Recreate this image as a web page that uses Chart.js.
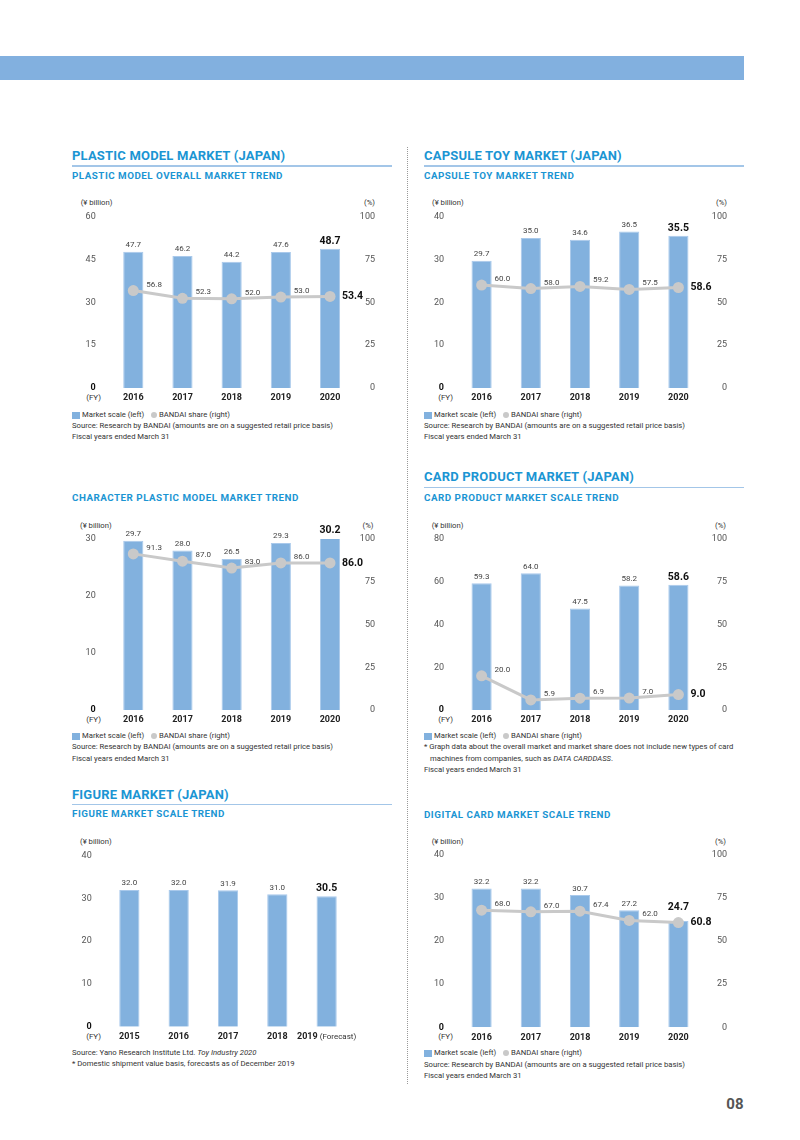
<!DOCTYPE html>
<html>
<head>
<meta charset="utf-8">
<script src="https://cdn.jsdelivr.net/npm/chart.js@4.4.1/dist/chart.umd.min.js"></script>
<style>
body { margin: 0; background: #fff; font-family: Roboto, sans-serif; }
#page { position: relative; width: 800px; height: 1140px; overflow: hidden; }
.t { position: absolute; white-space: nowrap; line-height: 1; transform: translateY(-50%); color: #333; font-size: 7.7px; }
.r { transform: translate(-100%, -50%); }
.h1 { font-size: 13px; font-weight: bold; color: #1b95d3; letter-spacing: 0.2px; }
.h2 { font-size: 9.8px; font-weight: bold; color: #1b95d3; letter-spacing: 0.5px; }
.fy { font-size: 8px; color: #333; }
.pg { font-size: 15px; font-weight: bold; color: #555; }
.blk { position: absolute; }
canvas { position: absolute; }
</style>
</head>
<body>
<div id="page"></div>
<script>
// ---- data ----
const fiscalYears = ["2016", "2017", "2018", "2019", "2020"];
const figureYears = ["2015", "2016", "2017", "2018", "2019"];
const figureYearNotes = ["", "", "", "", " (Forecast)"];

const shareTicks = [0, 25, 50, 75, 100];

const plasticScale = [47.7, 46.2, 44.2, 47.6, 48.7];
const plasticShare = [56.8, 52.3, 52.0, 53.0, 53.4];
const plasticTicks = [0, 15, 30, 45, 60];

const capsuleScale = [29.7, 35.0, 34.6, 36.5, 35.5];
const capsuleShare = [60.0, 58.0, 59.2, 57.5, 58.6];
const capsuleTicks = [0, 10, 20, 30, 40];

const charModelScale = [29.7, 28.0, 26.5, 29.3, 30.2];
const charModelShare = [91.3, 87.0, 83.0, 86.0, 86.0];
const charModelTicks = [0, 10, 20, 30];

const cardScale = [59.3, 64.0, 47.5, 58.2, 58.6];
const cardShare = [20.0, 5.9, 6.9, 7.0, 9.0];
const cardTicks = [0, 20, 40, 60, 80];

const figureScale = [32.0, 32.0, 31.9, 31.0, 30.5];
const figureTicks = [0, 10, 20, 30, 40];

const digitalScale = [32.2, 32.2, 30.7, 27.2, 24.7];
const digitalShare = [68.0, 67.0, 67.4, 62.0, 60.8];
const digitalTicks = [0, 10, 20, 30, 40];

const BAR = "#82b1de";
const LINE = "#c9c9c9";
const page = document.getElementById("page");

// ---- page furniture ----
function txt(x, y, html, cls, right) {
    const d = document.createElement("div");
    d.className = "t " + (cls || "") + (right ? " r" : "");
    d.style.left = x + "px";
    d.style.top = y + "px";
    d.innerHTML = html;
    page.appendChild(d);
}

function block(x, y, w, h, css) {
    const d = document.createElement("div");
    d.className = "blk";
    d.style.cssText += `left:${x}px;top:${y}px;width:${w}px;height:${h}px;` + css;
    page.appendChild(d);
}

function legend(x, y) {
    block(x, y - 3.5, 8, 7, "background:" + BAR);
    txt(x + 10, y, "Market scale (left)");
    block(x + 79, y - 3, 6, 6, "background:" + LINE + ";border-radius:50%");
    txt(x + 87, y, "BANDAI share (right)");
}

block(0, 56, 744, 24, "background:#82b0df");
block(407, 147, 0, 937, "border-left:1px dotted #999");
txt(743.5, 1104, "08", "pg", true);

// plastic model
txt(72, 155, "PLASTIC MODEL MARKET (JAPAN)", "h1");
block(72, 165, 320, 1.5, "background:#a3c6e8");
txt(72, 176, "PLASTIC MODEL OVERALL MARKET TREND", "h2");
txt(80.7, 202.7, "(¥ billion)");
txt(375, 202.7, "(%)", "", true);
txt(101, 398, "(FY)", "fy", true);
legend(72, 415);
txt(72, 426, "Source: Research by BANDAI (amounts are on a suggested retail price basis)");
txt(72, 436.7, "Fiscal years ended March 31");

// capsule toy
txt(424, 155, "CAPSULE TOY MARKET (JAPAN)", "h1");
block(424, 165, 320, 1.5, "background:#a3c6e8");
txt(424, 176, "CAPSULE TOY MARKET TREND", "h2");
txt(432, 202.7, "(¥ billion)");
txt(727, 202.7, "(%)", "", true);
txt(453, 398, "(FY)", "fy", true);
legend(424, 415);
txt(424, 426, "Source: Research by BANDAI (amounts are on a suggested retail price basis)");
txt(424, 436.7, "Fiscal years ended March 31");

// character plastic model
txt(72, 497.7, "CHARACTER PLASTIC MODEL MARKET TREND", "h2");
txt(80, 525.7, "(¥ billion)");
txt(373.5, 525.7, "(%)", "", true);
txt(101, 720, "(FY)", "fy", true);
legend(72, 736);
txt(72, 747, "Source: Research by BANDAI (amounts are on a suggested retail price basis)");
txt(72, 759, "Fiscal years ended March 31");

// card product
txt(424, 476, "CARD PRODUCT MARKET (JAPAN)", "h1");
block(424, 486.5, 320, 1.5, "background:#a3c6e8");
txt(424, 497.7, "CARD PRODUCT MARKET SCALE TREND", "h2");
txt(431.7, 525.7, "(¥ billion)");
txt(726, 525.7, "(%)", "", true);
txt(453, 719.5, "(FY)", "fy", true);
legend(424, 736);
txt(424, 747, "* Graph data about the overall market and market share does not include new types of card");
txt(430, 758.5, "machines from companies, such as <i>DATA CARDDASS</i>.");
txt(424, 770, "Fiscal years ended March 31");

// figure
txt(72, 794, "FIGURE MARKET (JAPAN)", "h1");
block(72, 803.5, 320, 1.5, "background:#a3c6e8");
txt(72, 814, "FIGURE MARKET SCALE TREND", "h2");
txt(80, 842, "(¥ billion)");
txt(101, 1037, "(FY)", "fy", true);
txt(72, 1052.7, "Source: Yano Research Institute Ltd. <i>Toy Industry 2020</i>");
txt(72, 1064, "* Domestic shipment value basis, forecasts as of December 2019");

// digital card
txt(424, 815, "DIGITAL CARD MARKET SCALE TREND", "h2");
txt(431.7, 842, "(¥ billion)");
txt(726, 842, "(%)", "", true);
txt(453, 1037, "(FY)", "fy", true);
legend(424, 1053);
txt(424, 1065, "Source: Research by BANDAI (amounts are on a suggested retail price basis)");
txt(424, 1076, "Fiscal years ended March 31");

// ---- plugins ----
const valueLabels = {
    id: "valueLabels",
    afterDatasetsDraw(chart, args, opts) {
        const ctx = chart.ctx;
        chart.data.datasets.forEach((ds, i) => {
            const meta = chart.getDatasetMeta(i);
            meta.data.forEach((el, j) => {
                const last = j === ds.data.length - 1;
                const text = ds.data[j].toFixed(1);
                ctx.save();
                ctx.font = last ? "bold 10.5px Roboto" : "8px Roboto";
                ctx.fillStyle = last ? "#111" : "#444";
                ctx.textBaseline = "middle";
                if (ds.type === "line") {
                    ctx.textAlign = "left";
                    ctx.fillText(text, el.x + (last ? 12 : 13), last ? el.y : el.y - 6);
                } else {
                    ctx.textAlign = "center";
                    ctx.fillText(text, el.x, el.y - (last ? opts.lastLift : 6.5));
                }
                ctx.restore();
            });
        });
    }
};

const yearLabels = {
    id: "yearLabels",
    afterDraw(chart, args, opts) {
        const ctx = chart.ctx;
        const xs = chart.scales.x;
        const y = chart.chartArea.bottom + 10;
        const notes = opts.notes || [];
        chart.data.labels.forEach((lab, j) => {
            const note = notes[j] || "";
            ctx.save();
            ctx.textBaseline = "middle";
            ctx.textAlign = "left";
            ctx.font = "bold 9px Roboto";
            const w1 = ctx.measureText(lab).width;
            ctx.font = "8px Roboto";
            const w2 = ctx.measureText(note).width;
            const left = xs.getPixelForValue(j) - (w1 + w2) / 2;
            ctx.font = "bold 9px Roboto";
            ctx.fillStyle = "#222";
            ctx.fillText(lab, left, y);
            if (note) {
                ctx.font = "8px Roboto";
                ctx.fillStyle = "#333";
                ctx.fillText(note, left + w1, y);
            }
            ctx.restore();
        });
    }
};

// ---- charts ----
// plot = chart area box, edge = right edge of the right-hand tick labels
function makeChart(plot, edge, labels, scale, ticks, share, extra) {
    const cx = Math.floor(plot.l - 45), cy = Math.floor(plot.t - 22);
    const cw = Math.ceil(share ? edge : plot.r + 35) - cx, ch = Math.ceil(plot.b + 18) - cy;
    const cv = document.createElement("canvas");
    cv.width = cw;
    cv.height = ch;
    cv.style.left = cx + "px";
    cv.style.top = cy + "px";
    cv.style.width = cw + "px";
    cv.style.height = ch + "px";
    page.appendChild(cv);

    const datasets = [{
        type: "bar",
        data: scale,
        yAxisID: "y",
        backgroundColor: BAR,
        borderColor: "#a9c9eb",
        borderWidth: 1,
        barPercentage: 0.41,
        categoryPercentage: 1,
        order: 2
    }];
    if (share) {
        datasets.push({
            type: "line",
            data: share,
            yAxisID: "y2",
            borderColor: LINE,
            borderWidth: 3,
            pointRadius: 5.5,
            pointBackgroundColor: LINE,
            pointBorderWidth: 0,
            order: 1
        });
    }

    const scales = {
        x: {
            offset: true,
            grid: { display: false },
            border: { display: false },
            ticks: { display: false },
            afterFit: s => { s.height = cy + ch - plot.b; }
        },
        y: {
            position: "left",
            min: 0,
            max: ticks[ticks.length - 1],
            afterBuildTicks: s => { s.ticks = ticks.map(v => ({ value: v })); },
            grid: { display: false },
            border: { display: false },
            ticks: {
                padding: 5,
                color: c => c.tick && c.tick.value === 0 ? "#111" : "#555",
                font: c => ({ family: "Roboto", size: 9, weight: c.tick && c.tick.value === 0 ? "bold" : "normal" })
            },
            afterFit: s => { s.width = plot.l - cx; }
        }
    };
    if (share) {
        scales.y2 = {
            position: "right",
            min: 0,
            max: 100,
            afterBuildTicks: s => { s.ticks = shareTicks.map(v => ({ value: v })); },
            grid: { display: false },
            border: { display: false },
            ticks: { padding: 7, crossAlign: "far", color: "#555", font: { family: "Roboto", size: 9 } },
            afterFit: s => { s.width = cx + cw - plot.r; }
        };
    }

    return new Chart(cv.getContext("2d"), {
        data: { labels: labels, datasets: datasets },
        options: {
            responsive: false,
            animation: false,
            layout: { padding: { top: plot.t - cy, left: 0, bottom: 0, right: share ? 0 : cx + cw - plot.r } },
            scales: scales,
            plugins: {
                legend: { display: false },
                tooltip: { enabled: false },
                valueLabels: { lastLift: extra.lift || 7 },
                yearLabels: { notes: extra.notes }
            }
        },
        plugins: [valueLabels, yearLabels]
    });
}

makeChart({ l: 108.7, r: 354.6, t: 216.5, b: 388 }, 375, fiscalYears, plasticScale, plasticTicks, plasticShare, {});
makeChart({ l: 457, r: 703, t: 216.5, b: 388 }, 727, fiscalYears, capsuleScale, capsuleTicks, capsuleShare, {});
makeChart({ l: 108.7, r: 354.6, t: 539, b: 710 }, 375, fiscalYears, charModelScale, charModelTicks, charModelShare, {});
makeChart({ l: 457, r: 703, t: 539, b: 710 }, 727, fiscalYears, cardScale, cardTicks, cardShare, {});
makeChart({ l: 104.7, r: 351.3, t: 855.7, b: 1026.7 }, 0, figureYears, figureScale, figureTicks, null, { lift: 8, notes: figureYearNotes });
makeChart({ l: 457, r: 703, t: 855, b: 1027.3 }, 727, fiscalYears, digitalScale, digitalTicks, digitalShare, { lift: 14 });
</script>
</body>
</html>
